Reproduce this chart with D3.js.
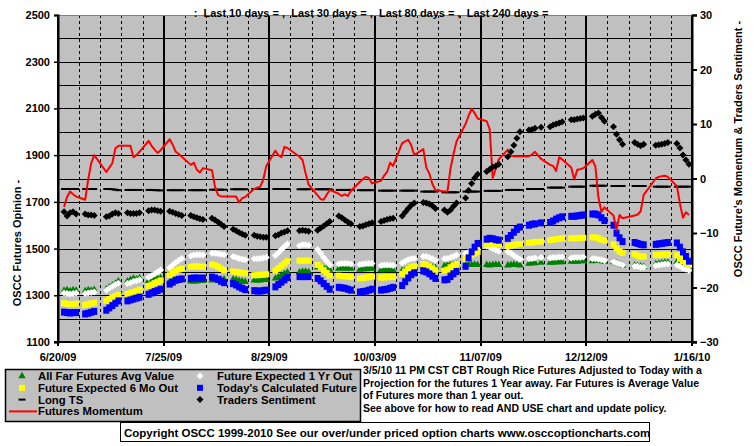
<!doctype html>
<html>
<head>
<meta charset="utf-8">
<style>
    body { margin: 0; background: #fff; }
    text { font-family: Arial, "Liberation Sans", sans-serif; font-weight: bold; fill: #000; }
</style>
</head>
<body>

<div id="container"></div>

<script src="https://d3js.org/d3.v7.min.js"></script>
<script type="text/javascript">

    // ---- data (one row of 5 trading days per week, Mon..Fri, null = no trading) ----
    var firstSaturday = "6/20/09";
    var xTickLabels = ["6/20/09", "7/25/09", "8/29/09", "10/03/09", "11/07/09", "12/12/09", "1/16/10"];
    var leftTicks = [1100, 1300, 1500, 1700, 1900, 2100, 2300, 2500];
    var rightTicks = [-30, -20, -10, 0, 10, 20, 30];

    var titleText = ":  Last 10 days = ,  Last 30 days = ,  Last 80 days = ,  Last 240 days =";
    var leftTitle = "OSCC Futures Opinion -";
    var rightTitle = "OSCC Future's Momentum & Traders Sentiment -";
    var noteLines = [
        "3/5/10 11 PM CST CBT Rough Rice Futures Adjusted to Today with a",
        "Projection for the futures 1 Year away. Far Futures is Average Value",
        "of Futures more than 1 year out.",
        "See above for how to read AND USE chart and update policy."
    ];
    var copyright = "Copyright OSCC 1999-2010 See our over/under priced option charts www.osccoptioncharts.com";

    // Today's Calculated Future
    var todays = [
        [1228,1226,1224,1226,1226], [1220,1223,1227,1231,null], [1236,1246,1256,1266,1276],
        [1276,1280,1284,1288,1292], [1304,1310,1316,1320,1326], [1348,1356,1364,1368,1370],
        [1372,1374,1374,1372,1374], [1378,1374,1368,1360,1354], [1350,1344,1336,1330,1324],
        [1320,1318,1318,1320,1322], [1336,1346,1356,1366,1376], [null,1380,1380,1380,1380],
        [1372,1362,1350,1338,1326], [1334,1332,1330,1326,1322], [1314,1316,1318,1322,1326],
        [1322,1324,1326,1330,1334], [1342,1358,1374,1388,1396], [1404,1400,1392,1382,1372],
        [1366,1368,1380,1392,1402], [1424,1460,1486,1506,1522], [1540,1544,1542,1538,1536],
        [1544,1556,1570,1582,1592], [1600,1604,1606,null,1610], [1612,1618,1626,1632,1636],
        [1638,1638,1640,1642,1644], [1648,1648,1644,1632,1620], [1600,1566,1546,1530,null],
        [1526,1522,1518,1516,null], [1518,1520,1522,1524,1526], [1524,1506,1486,1466,1446]
    ];

    // Future Expected 6 Mo Out
    var sixMonth = [
        [1266,1264,1262,1263,1264], [1258,1262,1265,1268,null], [1276,1284,1290,1296,1302],
        [1306,1310,1314,1318,1324], [1340,1346,1352,1358,1364], [1386,1396,1404,1410,1414],
        [1422,1424,1424,1422,1422], [1432,1428,1422,1414,1408], [1402,1400,1398,1396,1394],
        [1386,1386,1388,1388,1390], [1406,1416,1426,1436,1446], [null,1448,1448,1448,1448],
        [1430,1420,1408,1396,1384], [1384,1382,1382,1380,1378], [1372,1374,1376,1378,1380],
        [1376,1376,1378,1378,1378], [1392,1402,1412,1420,1424], [1434,1430,1424,1416,1408],
        [1406,1410,1420,1428,1434], [1456,1466,1474,1480,1486], [1518,1520,1522,1520,1518],
        [1510,1512,1516,1518,1520], [1524,1526,1528,null,1530], [1536,1538,1540,1542,1544],
        [1544,1544,1544,1546,1546], [1548,1548,1544,1538,1534], [1518,1500,1488,1482,null],
        [1476,1470,1466,1466,null], [1472,1472,1474,1474,1474], [1472,1456,1446,1438,1430]
    ];

    // Future Expected 1 Yr Out
    var oneYear = [
        [1310,1308,1306,1308,1310], [1308,1310,1312,1314,null], [1322,1330,1338,1346,1352],
        [1350,1354,1360,1362,1366], [1376,1384,1392,1400,1408], [1418,1430,1440,1450,1458],
        [1468,1472,1474,1474,1472], [1480,1480,1478,1476,1474], [1466,1462,1458,1454,1452],
        [1456,1456,1458,1460,1462], [1470,1482,1496,1508,1520], [null,1512,1516,1516,1514],
        [1496,1480,1462,1446,1430], [1434,1436,1436,1436,1434], [1432,1434,1436,1436,1436],
        [1428,1430,1430,1430,1428], [1438,1446,1452,1456,1458], [1466,1466,1462,1456,1450],
        [1456,1458,1462,1466,1472], [1478,1484,1490,1494,1496], [1510,1506,1500,1494,1488],
        [1486,1480,1470,1462,1454], [1456,1458,1460,null,1462], [1460,1462,1462,1464,1464],
        [1460,1462,1462,1462,1464], [1456,1456,1454,1452,1448], [1444,1438,1434,1430,null],
        [1424,1424,1420,1420,null], [1428,1430,1432,1434,1434], [1430,1424,1416,1412,1406]
    ];

    // All Far Futures Avg Value
    var farFutures = [
        [1320,1322,1318,1322,1320], [1318,1322,1320,1324,null], [1326,1334,1342,1350,1360],
        [1360,1366,1372,1368,1374], [1362,1366,1368,1372,1374], [1358,1362,1364,1366,1366],
        [1360,1360,1360,1362,1362], [1364,1366,1366,1368,1368], [1368,1366,1362,1360,1358],
        [1364,1364,1364,1366,1366], [1372,1378,1386,1392,1398], [null,1398,1402,1402,1400],
        [1420,1418,1416,1414,1410], [1414,1416,1414,1416,1414], [1410,1412,1412,1414,1414],
        [1408,1408,1410,1410,1408], [1406,1408,1410,1412,1412], [1422,1424,1422,1420,1418],
        [1426,1428,1430,1430,1432], [1428,1432,1430,1432,1430], [1430,1428,1430,1432,1430],
        [1428,1430,1432,1430,1428], [1436,1438,1438,null,1440], [1440,1440,1442,1442,1442],
        [1444,1444,1444,1446,1446], [1446,1448,1448,1446,1444], [1442,1438,1434,1428,null],
        [1428,1426,1424,1422,null], [1434,1436,1438,1440,1440], [1442,1436,1430,1424,1420]
    ];

    // Long TS
    var longTS = [
        [1755,1755,1755,1755,1755], [1755,1755,1755,1755,null], [1755,1755,1754,1752,1750],
        [1751,1751,1751,1751,1751], [1751,1751,1750,1750,1749], [1750,1750,1750,1750,1750],
        [1750,1750,1750,1750,1750], [1752,1752,1752,1752,1752], [1754,1754,1754,1754,1754],
        [1755,1755,1755,1755,1755], [1755,1755,1755,1755,1755], [null,1754,1754,1754,1754],
        [1754,1754,1754,1754,1754], [1751,1751,1751,1751,1751], [1750,1750,1750,1750,1750],
        [1748,1748,1748,1748,1748], [1748,1748,1748,1748,1748], [1744,1744,1744,1744,1744],
        [1741,1741,1741,1741,1741], [1744,1744,1744,1744,1744], [1747,1747,1747,1747,1747],
        [1751,1751,1751,1751,1751], [1755,1755,1755,null,1755], [1761,1761,1761,1761,1761],
        [1765,1765,1765,1765,1765], [1769,1769,1769,1769,1769], [1768,1768,1768,1768,null],
        [1768,1768,1768,1768,null], [1765,1765,1765,1765,1765], [1765,1765,1765,1765,1765]
    ];

    // Traders Sentiment (right axis)
    var sentiment = [
        [-6.1,-6.9,-6.3,-6.1,-6.5], [-6.5,-6.7,-6.7,-6.8,null], [-7.0,-6.9,-6.5,-6.3,-6.4],
        [-6.3,-6.4,-6.4,-6.4,-6.3], [-5.9,-5.8,-5.8,-5.9,-6.0], [-6.0,-6.2,-6.4,-6.6,-6.8],
        [-6.8,-7.0,-7.2,-7.4,-7.5], [-7.3,-7.6,-8.0,-8.4,-8.8], [-9.3,-9.6,-9.9,-10.2,-10.4],
        [-10.4,-10.6,-10.7,-10.8,-10.8], [-10.5,-10.3,-10.0,-9.8,-9.6], [null,-9.6,-9.5,-9.6,-9.7],
        [-9.5,-9.1,-8.7,-8.3,-7.9], [-6.9,-7.2,-7.6,-8.0,-8.3], [-8.8,-8.7,-8.5,-8.3,-8.1],
        [-7.9,-7.7,-7.5,-7.4,-7.3], [-6.9,-6.2,-5.5,-4.9,-4.5], [-4.4,-4.5,-4.7,-5.0,-5.5],
        [-5.8,-6.2,-5.8,-5.1,-4.5], [-3.6,-2.2,-0.9,0.1,0.8], [1.3,1.7,2.1,2.3,2.6],
        [4.0,4.9,6.1,7.4,8.6], [8.9,9.0,9.2,null,9.4], [9.5,9.8,10.0,10.2,10.4],
        [10.8,10.8,10.9,11.0,11.1], [11.4,11.8,12.0,11.2,10.5], [9.5,8.1,7.1,6.3,null],
        [6.6,6.3,6.0,6.3,null], [6.1,6.2,6.3,6.4,6.6], [6.4,5.6,4.3,3.4,2.6]
    ];

    // Futures Momentum (right axis)
    var momentum = [
        [-5.2,-3.4,-2.4,-2.9,-3.3], [-3.9,-0.2,2.8,4.3,null], [1.2,2.0,2.8,5.5,6.0],
        [6.0,6.0,3.9,4.3,4.9], [6.9,6.0,5.3,4.7,5.2], [7.2,6.2,4.9,4.5,4.0],
        [2.5,2.9,1.6,1.1,1.9], [1.5,-1.5,-3.0,-3.3,-3.3], [-3.3,-3.3,-4.4,-3.6,-3.4],
        [-1.9,-1.7,-1.5,-0.2,2.3], [5.1,4.3,3.9,5.8,5.6], [null,4.0,3.4,1.0,-1.1],
        [-3.1,-3.8,-3.9,-3.0,-2.1], [-2.8,-3.2,-2.9,-3.2,-2.3], [-0.6,-0.1,0.3,0.1,-0.9],
        [-0.4,0.5,1.2,2.9,2.3], [6.5,6.8,7.1,6.1,4.3], [5.4,2.0,0.9,-1.0,-2.1],
        [-2.4,-2.4,1.8,4.5,6.8], [10.0,11.5,12.8,12.0,11.0], [10.5,9.0,0.1,1.8,3.5],
        [5.3,4.2,4.1,4.1,4.1], [4.1,4.4,4.9,null,3.6], [2.5,2.3,1.4,3.9,3.5],
        [2.0,-0.2,1.6,1.7,1.9], [3.4,2.2,-3.5,-6.1,-5.3], [-6.8,-9.4,-6.7,-7.3,null],
        [-6.8,-6.6,-6.0,-3.0,null], [0.0,0.3,0.4,0.5,0.3], [-1.4,-4.6,-7.2,-6.2,-6.7]
    ];

    // ---- layout ----
    var width = 755, height = 446;
    var margin = {top: 15, left: 58, right: 63, bottom: 104};
    var plotW = width - margin.left - margin.right;
    var plotH = height - margin.top - margin.bottom;

    var parseDate = d3.timeParse("%m/%d/%y");
    var start = parseDate(firstSaturday);
    var tickDates = xTickLabels.map(function (s) { return parseDate(s); });

    var rows = [];
    for (var w = 0; w < todays.length; w++) {
        for (var d = 0; d < 5; d++) {
            rows.push({
                date: d3.timeDay.offset(start, 7 * w + 2 + d),
                todays: todays[w][d], sixMonth: sixMonth[w][d], oneYear: oneYear[w][d],
                farFutures: farFutures[w][d], longTS: longTS[w][d],
                sentiment: sentiment[w][d], momentum: momentum[w][d]
            });
        }
    }

    var x = d3.scaleTime()
        .domain([tickDates[0], tickDates[tickDates.length - 1]])
        .range([margin.left, margin.left + plotW]);
    var yL = d3.scaleLinear().domain([1100, 2500]).range([margin.top + plotH, margin.top]);
    var yR = d3.scaleLinear().domain([-30, 30]).range([margin.top + plotH, margin.top]);

    var svg = d3.select("#container").append("svg")
        .attr("width", width)
        .attr("height", height);

    svg.append("defs").append("clipPath").attr("id", "plotclip")
        .append("rect")
        .attr("x", margin.left).attr("y", margin.top)
        .attr("width", plotW).attr("height", plotH);

    // plot background
    svg.append("rect")
        .attr("x", margin.left).attr("y", margin.top)
        .attr("width", plotW).attr("height", plotH)
        .attr("fill", "#c0c0c0");

    // horizontal grid every 100
    svg.append("g").selectAll("line")
        .data(d3.range(1100, 2501, 100))
        .enter().append("line")
        .attr("x1", margin.left).attr("x2", margin.left + plotW)
        .attr("y1", function (v) { return Math.round(yL(v)) + 0.5; })
        .attr("y2", function (v) { return Math.round(yL(v)) + 0.5; })
        .attr("stroke", "#000").attr("stroke-width", 1);

    // weekly dashed verticals
    var saturdays = d3.timeSaturday.range(start, tickDates[tickDates.length - 1]);
    svg.append("g").selectAll("line")
        .data(saturdays.filter(function (s, i) { return i % 5 !== 0; }))
        .enter().append("line")
        .attr("x1", function (s) { return Math.round(x(s)) + 0.5; })
        .attr("x2", function (s) { return Math.round(x(s)) + 0.5; })
        .attr("y1", margin.top).attr("y2", margin.top + plotH)
        .attr("stroke", "#000").attr("stroke-width", 1)
        .attr("stroke-dasharray", "3,3");

    // major verticals
    svg.append("g").selectAll("line")
        .data(tickDates)
        .enter().append("line")
        .attr("x1", function (s) { return Math.round(x(s)); })
        .attr("x2", function (s) { return Math.round(x(s)); })
        .attr("y1", margin.top).attr("y2", margin.top + plotH + 4)
        .attr("stroke", "#000").attr("stroke-width", 2);

    // frame
    svg.append("line")
        .attr("x1", margin.left).attr("x2", margin.left + plotW)
        .attr("y1", margin.top + 0.5).attr("y2", margin.top + 0.5)
        .attr("stroke", "#808080");
    svg.append("line")
        .attr("x1", margin.left - 4).attr("x2", margin.left + plotW + 5)
        .attr("y1", margin.top + plotH).attr("y2", margin.top + plotH)
        .attr("stroke", "#000").attr("stroke-width", 2);

    // left axis
    svg.append("g")
        .attr("transform", "translate(" + margin.left + ",0)")
        .call(d3.axisLeft(yL).tickValues(leftTicks).tickSize(4).tickFormat(d3.format("d")))
        .call(function (g) {
            g.select(".domain").attr("stroke-width", 2);
            g.selectAll(".tick line").attr("stroke-width", 1.5);
            g.selectAll("text").attr("font-size", "11px").attr("x", -8)
                .attr("font-family", "Arial, 'Liberation Sans', sans-serif").attr("font-weight", "bold");
        });

    // right axis
    svg.append("g")
        .attr("transform", "translate(" + (margin.left + plotW) + ",0)")
        .call(d3.axisRight(yR).tickValues(rightTicks).tickSize(5))
        .call(function (g) {
            g.select(".domain").attr("stroke-width", 2);
            g.selectAll(".tick line").attr("stroke-width", 2);
            g.selectAll("text").attr("font-size", "11px").attr("x", 8)
                .attr("font-family", "Arial, 'Liberation Sans', sans-serif").attr("font-weight", "bold");
        });

    // x labels
    svg.append("g").selectAll("text")
        .data(tickDates)
        .enter().append("text")
        .attr("x", function (s) { return x(s); })
        .attr("y", margin.top + plotH + 19)
        .attr("text-anchor", "middle")
        .attr("font-size", "11px")
        .text(function (s, i) { return xTickLabels[i]; });

    // titles
    svg.append("text")
        .attr("x", 371).attr("y", 17)
        .attr("text-anchor", "middle")
        .attr("font-size", "11px")
        .style("white-space", "pre")
        .text(titleText);

    svg.append("text")
        .attr("transform", "translate(21,243) rotate(-90)")
        .attr("text-anchor", "middle")
        .attr("font-size", "11px")
        .text(leftTitle);

    svg.append("text")
        .attr("transform", "translate(742,149) rotate(-90)")
        .attr("text-anchor", "middle")
        .attr("font-size", "11px")
        .text(rightTitle);

    // ---- series ----
    var plot = svg.append("g").attr("clip-path", "url(#plotclip)");

    function diamondPath(hw, hh) {
        return "M0," + (-hh) + "L" + hw + ",0L0," + hh + "L" + (-hw) + ",0Z";
    }
    function rectPath(w, h) {
        return "M" + (-w / 2) + "," + (-h / 2) + "h" + w + "v" + h + "h" + (-w) + "Z";
    }
    var triangle = d3.symbol().type(d3.symbolTriangle).size(24)();

    function markers(key, scale, shape, fill) {
        var pts = rows.filter(function (r) { return r[key] != null; });
        plot.append("g").attr("class", key).selectAll("path")
            .data(pts).enter().append("path")
            .attr("transform", function (r) {
                return "translate(" + x(r.date) + "," + scale(r[key]) + ")";
            })
            .attr("d", shape)
            .attr("fill", fill);
    }

    markers("farFutures", yL, triangle, "#008000");
    markers("oneYear", yL, diamondPath(3.5, 3.5), "#ffffff");
    markers("sixMonth", yL, rectPath(6, 6), "#ffff00");
    markers("todays", yL, rectPath(6, 7), "#0000ff");
    markers("longTS", yL, rectPath(6, 2), "#000000");

    var momentumLine = d3.line()
        .x(function (r) { return x(r.date); })
        .y(function (r) { return yR(r.momentum); });

    plot.append("path")
        .datum(rows.filter(function (r) { return r.momentum != null; }))
        .attr("d", momentumLine)
        .attr("fill", "none")
        .attr("stroke", "#ff0000")
        .attr("stroke-width", 2)
        .attr("stroke-linejoin", "round");

    markers("sentiment", yR, diamondPath(3.5, 3.5), "#000000");

    // ---- legend ----
    var legend = svg.append("g");
    legend.append("rect")
        .attr("x", 5.5).attr("y", 369.5).attr("width", 355).attr("height", 52)
        .attr("fill", "#c0c0c0").attr("stroke", "#000").attr("stroke-width", 1.5);

    var legendItems = [
        {label: "All Far Futures Avg Value", col: 0, row: 0, shape: triangle, fill: "#008000"},
        {label: "Future Expected 6 Mo Out", col: 0, row: 1, shape: rectPath(6, 6), fill: "#ffff00"},
        {label: "Long TS", col: 0, row: 2, shape: rectPath(7, 2), fill: "#000000"},
        {label: "Futures Momentum", col: 0, row: 3, shape: null, fill: "#ff0000"},
        {label: "Future Expected 1 Yr Out", col: 1, row: 0, shape: diamondPath(3.5, 3.5), fill: "#ffffff"},
        {label: "Today's Calculated Future", col: 1, row: 1, shape: rectPath(6, 6), fill: "#0000ff"},
        {label: "Traders Sentiment", col: 1, row: 2, shape: diamondPath(3.5, 3.5), fill: "#000000"}
    ];
    var colSym = [22, 200], colText = [38, 217];

    legendItems.forEach(function (it) {
        var cy = 376 + it.row * 11.8;
        if (it.shape) {
            legend.append("path")
                .attr("transform", "translate(" + colSym[it.col] + "," + cy + ")")
                .attr("d", it.shape).attr("fill", it.fill);
        } else {
            legend.append("line")
                .attr("x1", 9).attr("x2", 37).attr("y1", cy).attr("y2", cy)
                .attr("stroke", it.fill).attr("stroke-width", 2);
        }
        legend.append("text")
            .attr("x", colText[it.col]).attr("y", cy + 4)
            .attr("font-size", "11.3px")
            .text(it.label);
    });

    // note text
    svg.append("g").selectAll("text")
        .data(noteLines)
        .enter().append("text")
        .attr("x", 363)
        .attr("y", function (s, i) { return 374 + i * 12.6; })
        .attr("font-size", "10.5px")
        .text(function (s) { return s; });

    // copyright box
    svg.append("rect")
        .attr("x", 120.5).attr("y", 422.5).attr("width", 529).attr("height", 19)
        .attr("fill", "#fff").attr("stroke", "#000").attr("stroke-width", 1);
    svg.append("text")
        .attr("x", 124).attr("y", 437)
        .attr("font-size", "11.5px")
        .text(copyright);

</script>
</body>
</html>
